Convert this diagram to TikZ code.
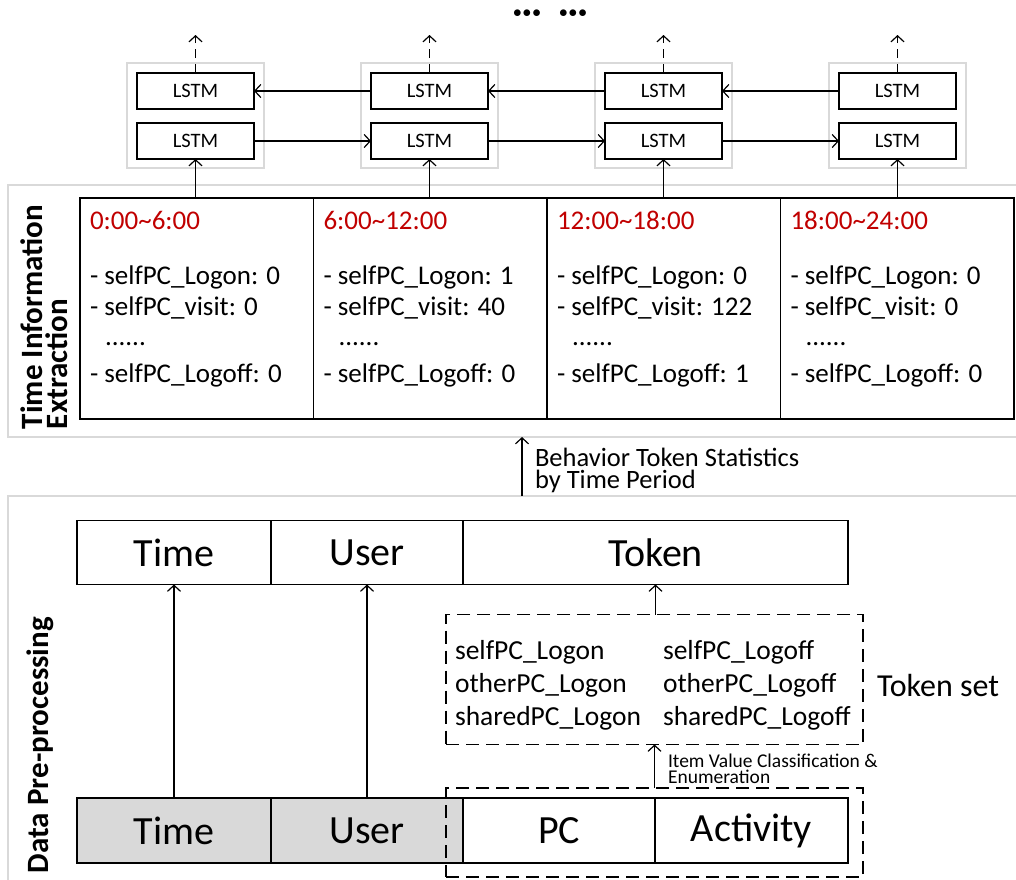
\documentclass[tikz,border=0pt]{standalone}
\usepackage{fontspec}
\setmainfont{Carlito}
\usetikzlibrary{arrows.meta}
\definecolor{secgray}{HTML}{D9D9D9}
\definecolor{cellgray}{HTML}{D9D9D9}
\definecolor{timered}{HTML}{C00000}
\newcommand{\tld}{\char`\~}
\tikzset{
  every node/.style={inner sep=0pt, outer sep=0pt},
  sect/.style={draw=secgray, line width=1.5pt},
  grp/.style={draw=secgray, line width=1.5pt, minimum width=137pt, minimum height=105pt},
  lstm/.style={draw, line width=1.5pt, minimum width=117pt, minimum height=36pt, font=\fontsize{20.5}{24}\selectfont},
  tbox/.style={draw, line width=1.5pt, minimum width=233.5pt, minimum height=221pt},
  itm/.style={anchor=west, font=\fontsize{27}{30}\selectfont, text height=19pt, text depth=6pt},
  ttl/.style={itm, text=timered},
  fld/.style={draw, line width=1.5pt, minimum height=64pt, font=\fontsize{40}{44}\selectfont},
  dbox/.style={draw, line width=1.1pt, dash pattern=on 13pt off 7pt},
  arr/.style={line width=1.2pt, -{Straight Barb[length=6pt,width=13pt]}},
  darr/.style={arr, dash pattern=on 9pt off 6pt},
  seclab/.style={rotate=90, font=\fontsize{31}{25}\selectfont\bfseries, align=left},
  dotsty/.style={font=\fontsize{17}{20}\selectfont},
  blabsty/.style={anchor=base west, font=\fontsize{26.5}{23}\selectfont},
  ivlsty/.style={anchor=base west, font=\fontsize{19.5}{17}\selectfont},
}
\begin{document}
\begin{tikzpicture}[x=1pt,y=-1pt]
\useasboundingbox (0,0) rectangle (1016,879);
% sections
\draw[sect] (1030,185) -- (8,185) -- (8,437) -- (1030,437);
\draw[sect] (1030,496) -- (8,496) -- (8,890);
\node[seclab, anchor=south west] (lab1) at (68,429) {Time Information\\Extraction};
\node[seclab, anchor=south west] (lab2) at (54,873) {Data Pre-processing};
% dots
\node[dotsty] (dots1) at (527,14) {$\bullet\!\bullet\!\bullet$};
\node[dotsty] (dots2) at (573,14) {$\bullet\!\bullet\!\bullet$};
% LSTM groups
\foreach \i/\x in {1/195.5,2/429.5,3/663.5,4/897.5}{
  \node[grp] (g\i) at (\x,115.5) {};
  \node[lstm] (t\i) at (\x,91) {LSTM};
  \node[lstm] (b\i) at (\x,141) {LSTM};
  \coordinate (o\i) at (\x,35);
  \draw[darr] (t\i.north) -- (o\i);
}
\draw[arr] (t2.west) -- (t1.east);
\draw[arr] (t3.west) -- (t2.east);
\draw[arr] (t4.west) -- (t3.east);
\draw[arr] (b1.east) -- (b2.west);
\draw[arr] (b2.east) -- (b3.west);
\draw[arr] (b3.east) -- (b4.west);
% time boxes
\foreach \i/\x/\r/\a/\b/\c in {1/196.75/0:00\tld6:00/0/0/0, 2/430.25/6:00\tld12:00/1/40/0, 3/663.75/12:00\tld18:00/0/122/1, 4/897.25/18:00\tld24:00/0/0/0}{
  \node[tbox] (p\i) at (\x,308.5) {};
  \node[ttl] (p\i r) at ([xshift=10pt]p\i.west |- 0,223) {\r};
  \node[itm] (p\i a) at ([xshift=10pt]p\i.west |- 0,278) {- selfPC\_Logon: \a};
  \node[itm] (p\i b) at ([xshift=10pt]p\i.west |- 0,309) {- selfPC\_visit: \b};
  \node[itm] (p\i d) at ([xshift=25pt]p\i.west |- 0,339) {......};
  \node[itm] (p\i c) at ([xshift=10pt]p\i.west |- 0,376) {- selfPC\_Logoff: \c};
  \draw[arr] (p\i.north -| b\i) -- (b\i.south);
}
% behaviour arrow
\coordinate (bs) at (522,496);
\coordinate (be) at (522,437);
\draw[arr] (bs) -- (be);
\node[blabsty] (blab1) at (535,466) {Behavior Token Statistics};
\node[blabsty] (blab2) at (535,488) {by Time Period};
% top row
\node[fld, minimum width=194pt] (tt) at (174,552.5) {Time};
\node[fld, minimum width=192pt] (tu) at (367,552.5) {User};
\node[fld, minimum width=385pt] (tk) at (655.5,552.5) {Token};
% bottom row
\node[fld, fill=cellgray, minimum width=194pt, minimum height=65pt] (bt) at (174,830.5) {Time};
\node[fld, fill=cellgray, minimum width=192pt, minimum height=65pt] (bu) at (367,830.5) {User};
\node[fld, minimum width=192pt, minimum height=65pt] (bp) at (559,830.5) {PC};
\node[fld, minimum width=193pt, minimum height=65pt] (ba) at (751.5,830.5) {Activity};
% dashed boxes
\node[dbox, minimum width=417pt, minimum height=89pt] (dpa) at (654.5,832.5) {};
\node[dbox, minimum width=417pt, minimum height=130pt] (ts) at (654.5,679.5) {};
\node[anchor=west, font=\fontsize{27.5}{33}\selectfont, align=left] (tsl) at (455,685) {selfPC\_Logon\\otherPC\_Logon\\sharedPC\_Logon};
\node[anchor=west, font=\fontsize{27.5}{33}\selectfont, align=left] (tsr) at (663,685) {selfPC\_Logoff\\otherPC\_Logoff\\sharedPC\_Logoff};
\node[anchor=west, font=\fontsize{32}{36}\selectfont] (tsn) at (877,685) {Token set};
% arrows lower
\draw[arr] (bt.north) -- (tt.south);
\draw[arr] (bu.north) -- (tu.south);
\draw[arr] (ts.north -| tk.south) -- (tk.south);
\draw[arr] (dpa.north) -- (ts.south);
\node[ivlsty] (ivl1) at (668,767) {Item Value Classification \&};
\node[ivlsty] (ivl2) at (668,783) {Enumeration};
\end{tikzpicture}
\end{document}
